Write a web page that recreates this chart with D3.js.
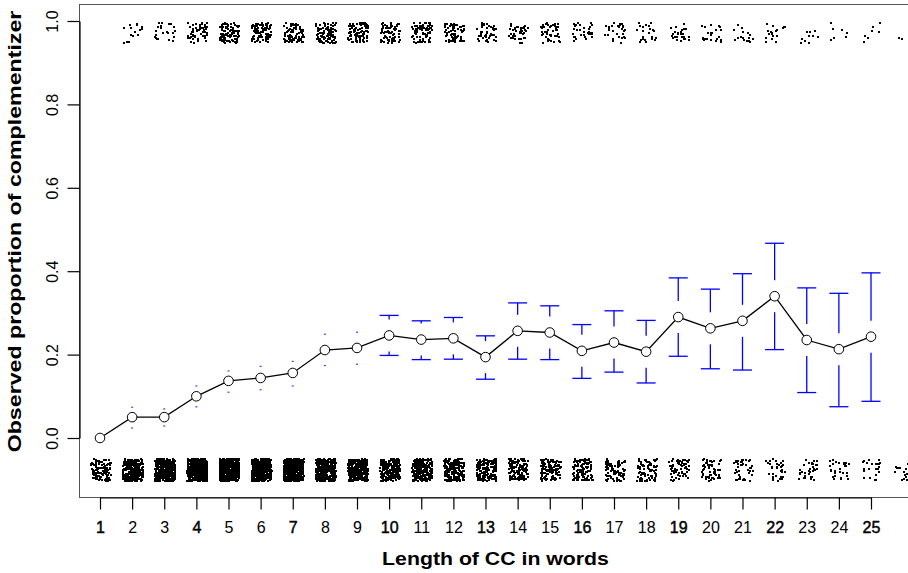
<!DOCTYPE html>
<html>
<head>
<meta charset="utf-8">
<script src="https://cdn.jsdelivr.net/npm/d3@7"></script>
<style>
  body { margin: 0; background: #fff; }
  svg { font-family: "Liberation Sans", Arial, Helvetica, sans-serif; }
</style>
</head>
<body>
<div id="chart"></div>
<script>
// lengths of the CC (x positions of the observations)
const lengths = [1, 2, 3, 4, 5, 6, 7, 8, 9, 10, 11, 12, 13, 14, 15, 16, 17, 18, 19, 20, 21, 22, 23, 24, 25, 26];
// number of clauses without / with complementizer per length
const countNo  = [110, 277, 412, 498, 602, 517, 490, 359, 344, 233, 244, 213, 179, 120, 130, 121, 97, 89, 64, 60, 42, 35, 34, 28, 23, 18];
const countYes = [0, 15, 22, 55, 96, 87, 91, 96, 95, 76, 76, 67, 43, 41, 44, 32, 29, 23, 26, 22, 16, 18, 10, 7, 7, 4];

// observed proportion and confidence limits, lengths 1..25
const meanLengths = [1, 2, 3, 4, 5, 6, 7, 8, 9, 10, 11, 12, 13, 14, 15, 16, 17, 18, 19, 20, 21, 22, 23, 24, 25];
const proportions = [0.0, 0.05, 0.05, 0.10, 0.137, 0.144, 0.156, 0.211, 0.216, 0.246, 0.236, 0.239, 0.194, 0.257, 0.253, 0.209, 0.229, 0.207, 0.290, 0.263, 0.281, 0.340, 0.235, 0.213, 0.243];
const ciUpper = [null, 0.074, 0.070, 0.125, 0.161, 0.172, 0.184, 0.249, 0.254, 0.294, 0.281, 0.289, 0.245, 0.324, 0.317, 0.272, 0.305, 0.282, 0.384, 0.357, 0.394, 0.467, 0.360, 0.347, 0.396];
const ciLower = [null, 0.024, 0.029, 0.075, 0.110, 0.116, 0.125, 0.174, 0.177, 0.198, 0.188, 0.189, 0.141, 0.189, 0.188, 0.143, 0.158, 0.132, 0.196, 0.166, 0.163, 0.212, 0.109, 0.075, 0.088];

const xTicks = [1, 2, 3, 4, 5, 6, 7, 8, 9, 10, 11, 12, 13, 14, 15, 16, 17, 18, 19, 20, 21, 22, 23, 24, 25];
const yTicks = [0.0, 0.2, 0.4, 0.6, 0.8, 1.0];

// where the jittered 0 / 1 observations are plotted
const bandNo = [-0.101, -0.048];
const bandYes = [0.950, 0.998];

class propChart {
    constructor(_config) {
        this.config = {
            parentElement: _config.parentElement,
            containerWidth: _config.containerWidth || 908,
            containerHeight: _config.containerHeight || 573,
            box: { left: 79, top: 4, bottom: 497 }
        };
        this.initVis();
    }

    initVis() {
        let vis = this;

        vis.svg = d3.select(vis.config.parentElement)
            .append('svg')
            .attr('width', vis.config.containerWidth)
            .attr('height', vis.config.containerHeight);

        vis.xScale = d3.scaleLinear().domain([1, 25]).range([100, 871]);
        vis.yScale = d3.scaleLinear().domain([0, 1]).range([438, 21]);

        this.renderVis();
    }

    // deterministic jitter offset in [0,1) (integer hash, no Math.random)
    jit(i, k) {
        let n = (i * 7919 + k * 104729) | 0;
        n = (n ^ 61) ^ (n >>> 16);
        n = n + (n << 3);
        n = n ^ (n >>> 4);
        n = Math.imul(n, 0x27d4eb2d);
        n = n ^ (n >>> 15);
        return (n >>> 0) / 4294967296;
    }

    renderVis() {
        let vis = this;
        const b = vis.config.box;

        // plot box
        vis.svg.append('rect')
            .attr('x', b.left + 0.5)
            .attr('y', b.top + 0.5)
            .attr('width', 900)
            .attr('height', b.bottom - b.top)
            .attr('fill', 'none')
            .attr('stroke', '#555')
            .attr('stroke-width', 1);

        // jittered raw observations
        const pts = [];
        lengths.forEach((len, li) => {
            for (let i = 0; i < countNo[li]; i++) {
                const id = li * 2000 + i;
                pts.push({ x: len + (vis.jit(id, 1) - 0.5) * 0.62,
                           y: bandNo[0] + vis.jit(id, 2) * (bandNo[1] - bandNo[0]) });
            }
            for (let i = 0; i < countYes[li]; i++) {
                const id = li * 2000 + 1000 + i;
                pts.push({ x: len + (vis.jit(id, 3) - 0.5) * 0.62,
                           y: bandYes[0] + vis.jit(id, 4) * (bandYes[1] - bandYes[0]) });
            }
        });

        vis.svg.append('g')
            .selectAll('rect')
            .data(pts)
            .join('rect')
            .attr('x', d => Math.round(vis.xScale(d.x)))
            .attr('y', d => Math.round(vis.yScale(d.y)))
            .attr('width', 2)
            .attr('height', 2)
            .attr('fill', '#000')
            .attr('shape-rendering', 'crispEdges');

        // error bars (gap around the point)
        const gap = 17;
        const capW = 9.5;
        const bars = vis.svg.append('g')
            .attr('stroke', '#0000ff')
            .attr('stroke-width', 1.3);

        meanLengths.forEach((len, i) => {
            if (ciUpper[i] === null) return;
            const cx = vis.xScale(len);
            const cy = vis.yScale(proportions[i]);
            [ciUpper[i], ciLower[i]].forEach((lim, j) => {
                const ly = vis.yScale(lim);
                const dir = j === 0 ? -1 : 1;
                if (Math.abs(ly - cy) > gap) {
                    bars.append('line')
                        .attr('x1', cx).attr('x2', cx)
                        .attr('y1', cy + dir * (gap - 1)).attr('y2', ly);
                    bars.append('line')
                        .attr('x1', cx - capW).attr('x2', cx + capW)
                        .attr('y1', ly).attr('y2', ly);
                } else {
                    bars.append('rect')
                        .attr('x', cx - 1).attr('y', ly - 0.5)
                        .attr('width', 2).attr('height', 1.2)
                        .attr('stroke', 'none')
                        .attr('fill', '#3344ff');
                }
            });
        });

        // mean line with open circles
        const meanData = meanLengths.map((len, i) => ({ x: len, y: proportions[i] }));

        vis.svg.append('path')
            .datum(meanData)
            .attr('fill', 'none')
            .attr('stroke', '#000')
            .attr('stroke-width', 1.3)
            .attr('d', d3.line().x(d => vis.xScale(d.x)).y(d => vis.yScale(d.y)));

        vis.svg.append('g')
            .selectAll('circle')
            .data(meanData)
            .join('circle')
            .attr('cx', d => vis.xScale(d.x))
            .attr('cy', d => vis.yScale(d.y))
            .attr('r', 4.8)
            .attr('fill', '#fff')
            .attr('stroke', '#000')
            .attr('stroke-width', 1);

        // axes
        const xAxis = d3.axisBottom(vis.xScale)
            .tickValues(xTicks)
            .tickFormat(d3.format('d'))
            .tickSize(12)
            .tickSizeOuter(0)
            .tickPadding(12);

        const gx = vis.svg.append('g')
            .attr('transform', `translate(0, ${b.bottom + 0.5})`)
            .call(xAxis);
        gx.selectAll('text')
            .attr('font-size', 16)
            .attr('fill', '#000')
            .attr('font-family', '"Liberation Sans", Arial, sans-serif')
            .attr('stroke', (d, i) => i % 3 === 0 ? '#000' : 'none')
            .attr('stroke-width', 0.45);
        gx.selectAll('line, path').attr('stroke', '#000').attr('stroke-width', 1.2);

        const yAxis = d3.axisLeft(vis.yScale)
            .tickValues(yTicks)
            .tickFormat(d3.format('.1f'))
            .tickSize(12)
            .tickSizeOuter(0);

        const gy = vis.svg.append('g')
            .attr('transform', `translate(${b.left + 0.5}, 0)`)
            .call(yAxis);
        gy.selectAll('line, path').attr('stroke', '#000').attr('stroke-width', 1.2);
        gy.selectAll('text')
            .attr('x', null)
            .attr('dy', null)
            .attr('font-size', 16)
            .attr('fill', '#000')
            .attr('font-family', '"Liberation Sans", Arial, sans-serif')
            .attr('text-anchor', 'middle')
            .attr('transform', 'translate(-22, 0) rotate(-90)');

        // axis titles (glyphs are wider than Arial in the original, so stretch)
        vis.svg.append('text')
            .attr('transform', 'translate(495.5, 565) scale(1.12, 1)')
            .attr('text-anchor', 'middle')
            .attr('font-size', 19)
            .attr('font-weight', 'bold')
            .text('Length of CC in words');

        vis.svg.append('text')
            .attr('transform', 'translate(20.5, 231.5) rotate(-90) scale(1.22, 1)')
            .attr('text-anchor', 'middle')
            .attr('font-size', 19)
            .attr('font-weight', 'bold')
            .text('Observed proportion of complementizer');
    }
}

const chart = new propChart({ parentElement: '#chart' });
</script>
</body>
</html>
